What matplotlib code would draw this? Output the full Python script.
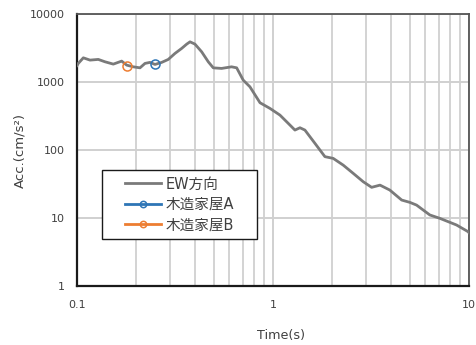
import matplotlib
matplotlib.use('Agg')
import matplotlib.pyplot as plt
from matplotlib.patches import Rectangle
from matplotlib.ticker import LogLocator, NullFormatter, FixedLocator, FixedFormatter

plt.rcParams['font.family'] = ['DejaVu Sans', 'Noto Sans CJK JP']

# EW direction response spectrum
period = [0.1, 0.1015, 0.1077, 0.1165, 0.1284, 0.139, 0.1532, 0.169, 0.1793, 0.1937,
          0.2096, 0.2223, 0.2357, 0.250, 0.2705, 0.2923, 0.3162, 0.342, 0.363, 0.3773,
          0.400, 0.4328, 0.4677, 0.4959, 0.547, 0.615, 0.653, 0.705, 0.763, 0.859,
          0.966, 1.086, 1.222, 1.295, 1.374, 1.456, 1.637, 1.842, 2.03, 2.285,
          2.57, 2.89, 3.19, 3.52, 3.95, 4.54, 5.00, 5.41, 6.32, 7.11,
          8.65, 9.91, 10.0]
acc_ew = [1750, 1884, 2277, 2107, 2157, 1990, 1840, 2037, 1778, 1679,
          1622, 1884, 1950, 1820, 1950, 2157, 2642, 3130, 3622, 3915,
          3622, 2790, 1990, 1622, 1590, 1679, 1622, 1070, 853, 497,
          410, 327, 233, 197, 213, 197, 126, 80, 75.5, 60,
          45.4, 34.2, 28.3, 30.5, 25.8, 18.4, 17.0, 15.5, 11.1, 9.9,
          7.9, 6.3, 6.1]

# wooden houses
house_a_t = [0.250]
house_a_acc = [1820]
house_b_t = [0.1806]
house_b_acc = [1718]

labels = ['EW方向', '木造家屋A', '木造家屋B']

fig = plt.figure(figsize=(4.76, 3.45), dpi=100)
ax = fig.add_axes([0.1618, 0.171, 0.8232, 0.788])

ax.plot(period, acc_ew, color='#7a7a7a', lw=2.0, label=labels[0], zorder=3)
ax.plot(house_a_t, house_a_acc, color='#2e75b6', lw=2.0, marker='o', ms=6.5,
        mfc='none', mec='#2e75b6', mew=1.1, label=labels[1], zorder=4)
ax.plot(house_b_t, house_b_acc, color='#ed7d31', lw=2.0, marker='o', ms=6.5,
        mfc='none', mec='#ed7d31', mew=1.1, label=labels[2], zorder=4)

ax.set_xscale('log')
ax.set_yscale('log')
ax.set_xlim(0.1, 10)
ax.set_ylim(1, 10000)

ax.xaxis.set_major_locator(FixedLocator([0.1, 1, 10]))
ax.xaxis.set_major_formatter(FixedFormatter(['0.1', '1', '10']))
ax.xaxis.set_minor_locator(LogLocator(base=10, subs=range(2, 10)))
ax.xaxis.set_minor_formatter(NullFormatter())
ax.yaxis.set_major_locator(FixedLocator([1, 10, 100, 1000, 10000]))
ax.yaxis.set_major_formatter(FixedFormatter(['1', '10', '100', '1000', '10000']))
ax.yaxis.set_minor_locator(FixedLocator([]))

ax.grid(True, which='major', color='#d0d0d0', lw=1.4, zorder=0)
ax.grid(True, which='minor', axis='x', color='#c8c8c8', lw=1.1, zorder=0)
ax.set_axisbelow(True)

ax.tick_params(which='both', length=0, labelsize=8, colors='#404040')
ax.tick_params(axis='y', pad=9)
ax.tick_params(axis='x', pad=10)

for s in ['left', 'bottom']:
    ax.spines[s].set_color('#1a1a1a')
    ax.spines[s].set_linewidth(1.6)
for s in ['top', 'right']:
    ax.spines[s].set_color('#555555')
    ax.spines[s].set_linewidth(1.3)

ax.set_xlabel('Time(s)', fontsize=9.2, color='#404040')
ax.xaxis.set_label_coords(0.52, -0.158)
ax.set_ylabel('Acc.(cm/s²)', fontsize=9.5, color='#404040')
ax.yaxis.set_label_coords(-0.128, 0.5)

# legend frame drawn separately so its size matches the original box
ax.add_patch(Rectangle((0.0638, 0.1728), 0.3954, 0.2537, transform=ax.transAxes,
                       facecolor='white', edgecolor='#1a1a1a', lw=1.0, zorder=5))
leg = ax.legend(loc='center left', bbox_to_anchor=(0.1224, 0.2996), borderaxespad=0,
                frameon=False, fontsize=10.5, handlelength=2.5, markerscale=0.7,
                labelspacing=0.38, handletextpad=0.3, borderpad=0)
leg.set_zorder(6)
for t in leg.get_texts():
    t.set_color('#404040')

fig.savefig('out.png', dpi=100)
